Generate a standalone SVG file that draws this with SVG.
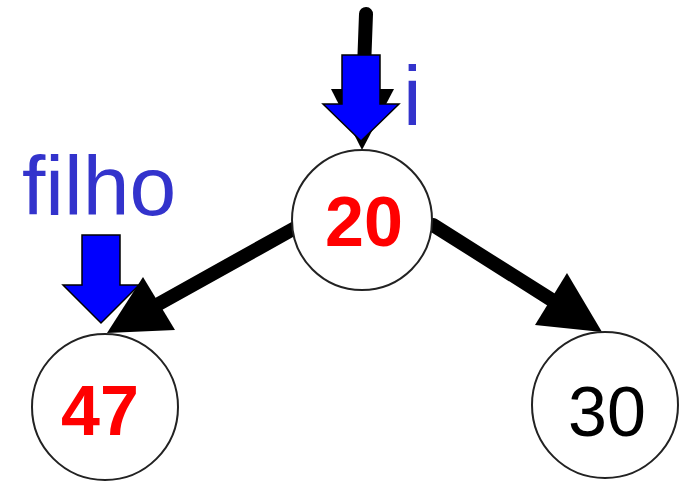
<svg xmlns="http://www.w3.org/2000/svg" width="684" height="481" viewBox="0 0 684 481">
<style>
.node{fill:#fff;stroke:#222;stroke-width:2}
.edge{stroke:#000;stroke-width:14;stroke-linecap:round;fill:none}
.head{fill:#000}
.ptr{fill:#0000ff;stroke:#000;stroke-width:1.5;stroke-linejoin:miter}
.lbl{font-family:"Liberation Sans",Arial,sans-serif;fill:#3333cc;font-size:84px}
.val{font-family:"Liberation Sans",Arial,sans-serif;text-anchor:middle;font-size:70px}
.hot{fill:#ff0000;font-weight:bold}
</style>
<rect width="684" height="481" fill="#fff"/>
<g id="connectors">
<line class="edge" x1="366" y1="14" x2="363" y2="95"/>
<polygon class="head" points="362,150 331,89 394,89"/>
<line class="edge" x1="295" y1="228" x2="155" y2="306"/>
<polygon class="head" points="107,333 143,277 175,330"/>
<line class="edge" x1="433" y1="225" x2="555" y2="302"/>
<polygon class="head" points="602,332 567,273 535,325"/>
</g>
<g id="node20">
<circle class="node" cx="362" cy="220" r="70"/>
<text class="val hot" x="364" y="246">20</text>
</g>
<g id="node47">
<circle class="node" cx="105" cy="407" r="73"/>
<text class="val hot" x="100" y="435">47</text>
</g>
<g id="node30">
<circle class="node" cx="605" cy="405" r="73"/>
<text class="val" x="607" y="436">30</text>
</g>
<g id="pointer-i">
<polygon class="ptr" points="342,55 380,55 380,104 399,104 361,141 323,104 342,104"/>
<text class="lbl" x="403" y="125">i</text>
</g>
<g id="pointer-filho">
<polygon class="ptr" points="82,235 120,235 120,285 139,285 101,323 63,285 82,285"/>
<text class="lbl" x="22" y="215">filho</text>
</g>
</svg>
